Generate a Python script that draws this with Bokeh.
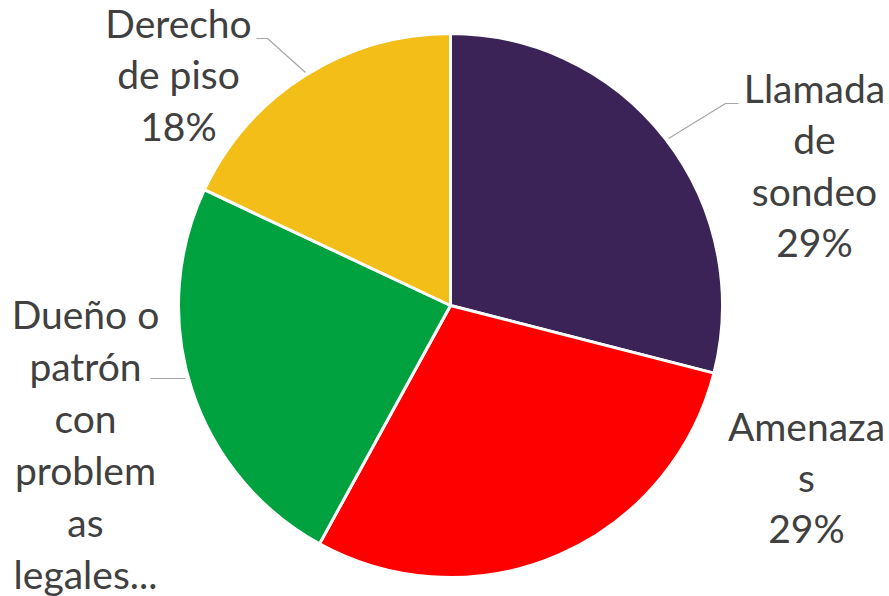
import math
from bokeh.plotting import figure
from bokeh.models import Range1d, ColumnDataSource
from bokeh.core.properties import value
from bokeh.embed import file_html
from bokeh.resources import INLINE

# ---- data ----
categories = ["Llamada de sondeo", "Amenazas", "Dueño o patrón con problemas legales", "Derecho de piso"]
values = [29, 29, 24, 18]
colors = ["#3B2358", "#FF0000", "#00A240", "#F3BE18"]
label_lines = [
    ["Llamada", "de", "sondeo"],
    ["Amenaza", "s"],
    ["Dueño o", "patrón", "con", "problem", "as", "legales..."],
    ["Derecho", "de piso"],
]
show_pct = [True, True, False, True]

W, H = 889, 596
p = figure(width=W, height=H, output_backend="svg", toolbar_location=None,
           x_range=Range1d(0, W), y_range=Range1d(0, H), min_border=0)
p.axis.visible = False
p.grid.visible = False
p.outline_line_color = None
p.background_fill_color = "white"
p.border_fill_color = "white"

def X(sx):
    return sx

def Y(sy):
    return H - sy

cx, cy, r = X(450), Y(305), 272
total = sum(values)
starts, ends = [], []
acc = 0
for v in values:
    starts.append(math.pi / 2 - 2 * math.pi * acc / total)
    acc += v
    ends.append(math.pi / 2 - 2 * math.pi * acc / total)

src = ColumnDataSource(dict(start=starts, end=ends, color=colors, cat=categories))
p.wedge(x=cx, y=cy, radius=r, radius_units="screen", start_angle="start", end_angle="end",
        direction="clock", fill_color="color", line_color="white", line_width=3, source=src)

# leader lines
lc = "#A6A6A6"
p.line([X(256), X(267), X(305)], [Y(38), Y(38), Y(72)], line_color=lc, line_width=1.2)
p.line([X(738), X(725), X(668)], [Y(103), Y(103), Y(138)], line_color=lc, line_width=1.2)
p.line([X(150), X(185)], [Y(378), Y(378)], line_color=lc, line_width=1.2)

# label anchors (center x, center y of first line, line spacing)
anchors = [(814, 87, 51.5), (806, 425, 51), (85, 313, 52), (178, 22, 51.5)]
for i, (ax, ay, sp) in enumerate(anchors):
    lines = list(label_lines[i])
    if show_pct[i]:
        lines.append(f"{values[i]}%")
    xs = [X(ax)] * len(lines)
    ys = [Y(ay + k * sp) for k in range(len(lines))]
    p.text(x=xs, y=ys, text=lines, text_align="center", text_baseline="middle",
           text_font=value("Lato"), text_font_size="39px", text_color="#404040")

open("out.html", "w").write(file_html(p, INLINE))
